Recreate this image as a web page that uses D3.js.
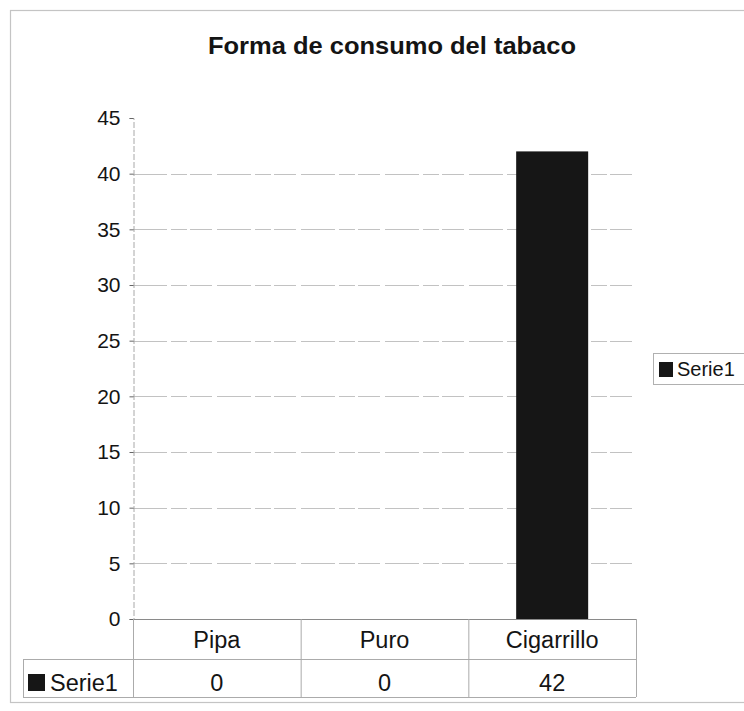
<!DOCTYPE html>
<html>
<head>
<meta charset="utf-8">
<script src="https://cdn.jsdelivr.net/npm/d3@7"></script>
<style>
  body { margin: 0; background: #fff; }
  svg { display: block; font-family: "Liberation Sans", Arial, sans-serif; }
</style>
</head>
<body>
<svg id="chart" width="744" height="711"></svg>
<script>
// Chart data
const title = "Forma de consumo del tabaco";
const categories = ["Pipa", "Puro", "Cigarrillo"];
const seriesName = "Serie1";
const values = [0, 0, 42];
const yTicks = [0, 5, 10, 15, 20, 25, 30, 35, 40, 45];

const svg = d3.select("#chart");
const plot = { left: 133, right: 636, top: 118, bottom: 619 };
const ink = "#141414";

// Outer chart frame
svg.append("rect")
  .attr("x", 10.5).attr("y", 10.5).attr("width", 760).attr("height", 692)
  .attr("fill", "none").attr("stroke", "#c4c4c4").attr("stroke-width", 1.2);

// Title
svg.append("text")
  .attr("x", 208).attr("y", 54)
  .attr("font-size", 24).attr("font-weight", "bold").attr("fill", ink)
  .attr("textLength", 368).attr("lengthAdjust", "spacingAndGlyphs")
  .text(title);

const x = d3.scaleBand().domain(categories)
  .range([plot.left, plot.right]).paddingInner(0).paddingOuter(0);
const y = d3.scaleLinear().domain([0, 45]).range([plot.bottom, plot.top]);

// Horizontal gridlines
svg.append("g").selectAll("line")
  .data(yTicks.filter(d => d > 0 && d < 45))
  .join("line")
  .attr("x1", plot.left).attr("x2", plot.right)
  .attr("y1", d => Math.round(y(d)) + 0.5).attr("y2", d => Math.round(y(d)) + 0.5)
  .attr("stroke", "#c2c2c2").attr("stroke-width", 1)
  .attr("stroke-dasharray", "34,4,16,3,22,5");

// Y axis
const yAxis = svg.append("g")
  .attr("transform", `translate(${plot.left + 0.5},0)`)
  .call(d3.axisLeft(y).tickValues(yTicks).tickSize(4).tickPadding(9));
yAxis.select(".domain").attr("stroke", "#a8a8a8").attr("stroke-dasharray", "6,2");
yAxis.selectAll(".tick line").attr("stroke", "#666");
yAxis.selectAll(".tick text")
  .attr("font-size", 21).attr("fill", ink)
  .attr("font-family", "Liberation Sans, Arial, sans-serif");

// Bars
const barWidth = 72;
svg.append("g").selectAll("rect")
  .data(values)
  .join("rect")
  .attr("x", (d, i) => x(categories[i]) + (x.bandwidth() - barWidth) / 2)
  .attr("y", d => y(d))
  .attr("width", barWidth)
  .attr("height", d => y(0) - y(d))
  .attr("fill", "#161616");

// Category axis line
svg.append("line")
  .attr("x1", plot.left).attr("x2", plot.right)
  .attr("y1", plot.bottom + 0.5).attr("y2", plot.bottom + 0.5)
  .attr("stroke", "#8a8a8a");

// Data table
const rowTop = plot.bottom, rowMid = 659, rowBottom = 697, tableLeft = 23;
const tableLines = svg.append("g").attr("stroke", "#ababab").attr("stroke-width", 1);
tableLines.append("line").attr("x1", tableLeft).attr("x2", plot.right)
  .attr("y1", rowMid + 0.5).attr("y2", rowMid + 0.5);
tableLines.append("line").attr("x1", tableLeft).attr("x2", plot.right)
  .attr("y1", rowBottom + 0.5).attr("y2", rowBottom + 0.5);
tableLines.append("line").attr("x1", tableLeft + 0.5).attr("x2", tableLeft + 0.5)
  .attr("y1", rowMid).attr("y2", rowBottom);
const colEdges = [plot.left, ...categories.map(c => x(c) + x.bandwidth())];
tableLines.selectAll("line.col")
  .data(colEdges)
  .join("line").attr("class", "col")
  .attr("x1", d => d + 0.5).attr("x2", d => d + 0.5)
  .attr("y1", rowTop).attr("y2", rowBottom);

svg.append("g").selectAll("text")
  .data(categories)
  .join("text")
  .attr("x", d => x(d) + x.bandwidth() / 2)
  .attr("y", 648)
  .attr("text-anchor", "middle")
  .attr("font-size", 23.5).attr("fill", ink)
  .text(d => d);

svg.append("g").selectAll("text")
  .data(values)
  .join("text")
  .attr("x", (d, i) => x(categories[i]) + x.bandwidth() / 2)
  .attr("y", 691)
  .attr("text-anchor", "middle")
  .attr("font-size", 23.5).attr("fill", ink)
  .text(d => d);

// Series key in data table
svg.append("rect").attr("x", 28).attr("y", 674).attr("width", 17).attr("height", 17)
  .attr("fill", "#161616");
svg.append("text").attr("x", 50).attr("y", 691)
  .attr("font-size", 23.5).attr("fill", ink).text(seriesName);

// Legend
const legend = svg.append("g");
legend.append("rect")
  .attr("x", 653.5).attr("y", 353.5).attr("width", 100).attr("height", 31)
  .attr("fill", "#fff").attr("stroke", "#b0b0b0");
legend.append("rect").attr("x", 659).attr("y", 362).attr("width", 14).attr("height", 15)
  .attr("fill", "#161616");
legend.append("text").attr("x", 677).attr("y", 376)
  .attr("font-size", 20).attr("fill", ink).text(seriesName);
</script>
</body>
</html>
